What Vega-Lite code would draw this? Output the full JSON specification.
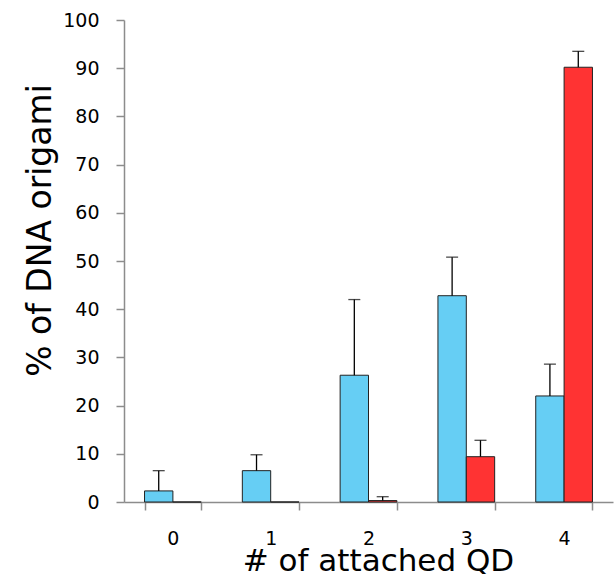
{
  "$schema": "https://vega.github.io/schema/vega-lite/v6.json",
  "width": 489,
  "height": 482,
  "autosize": "none",
  "padding": {"left": 124, "top": 20, "right": 2, "bottom": 72},
  "background": "white",
  "config": {
    "view": {"stroke": null},
    "font": "DejaVu Sans",
    "axis": {"grid": false, "labelColor": "#000", "titleColor": "#000", "titleFontWeight": "normal",
             "domainColor": "#8c8c8c", "tickColor": "#8c8c8c", "domainWidth": 1.5, "tickWidth": 1.5}
  },
  "data": {
    "values": [
      {"qd": "0", "series": "a", "value": 2.3, "upper": 6.5},
      {"qd": "0", "series": "b", "value": 0, "upper": null},
      {"qd": "1", "series": "a", "value": 6.5, "upper": 9.8},
      {"qd": "1", "series": "b", "value": 0, "upper": null},
      {"qd": "2", "series": "a", "value": 26.3, "upper": 42.0},
      {"qd": "2", "series": "b", "value": 0.3, "upper": 1.1},
      {"qd": "3", "series": "a", "value": 42.8, "upper": 50.8},
      {"qd": "3", "series": "b", "value": 9.4, "upper": 12.8},
      {"qd": "4", "series": "a", "value": 22.0, "upper": 28.6},
      {"qd": "4", "series": "b", "value": 90.2, "upper": 93.5}
    ]
  },
  "encoding": {
    "x": {
      "field": "qd", "type": "nominal", "sort": null,
      "scale": {"paddingInner": 0.42, "paddingOuter": 0.21},
      "axis": {
        "title": "# of attached QD", "labelAngle": 0, "tickBand": "extent", "tickSize": 8,
        "labelPadding": 19, "labelFontSize": 19, "titleFontSize": 31,
        "titleY": 68, "titleBaseline": "alphabetic", "titleX": 254, "titleAlign": "center"
      }
    },
    "xOffset": {"field": "series", "type": "nominal", "sort": ["a", "b"], "scale": {"paddingInner": 0, "paddingOuter": 0}}
  },
  "layer": [
    {
      "mark": {"type": "bar", "stroke": "#222", "strokeWidth": 1},
      "encoding": {
        "y": {
          "field": "value", "type": "quantitative",
          "scale": {"domain": [0, 100], "nice": false},
          "axis": {
            "title": "% of DNA origami", "values": [0,10,20,30,40,50,60,70,80,90,100],
            "tickSize": 8, "labelPadding": 17, "labelFontSize": 19, "titleFontSize": 33,
            "titleX": -74, "titleY": 210, "titleAngle": -90, "titleAlign": "center", "titleBaseline": "alphabetic"
          }
        },
        "color": {"field": "series", "type": "nominal", "scale": {"domain": ["a", "b"], "range": ["#66CEF4", "#FF3333"]}, "legend": null}
      }
    },
    {
      "transform": [{"filter": "datum.upper != null"}],
      "mark": {"type": "rule", "color": "#000", "strokeWidth": 1.3},
      "encoding": {
        "y": {"field": "value", "type": "quantitative"},
        "y2": {"field": "upper"}
      }
    },
    {
      "transform": [{"filter": "datum.upper != null"}],
      "mark": {"type": "tick", "color": "#000", "size": 12, "thickness": 1.3},
      "encoding": {
        "y": {"field": "upper", "type": "quantitative"}
      }
    }
  ]
}
